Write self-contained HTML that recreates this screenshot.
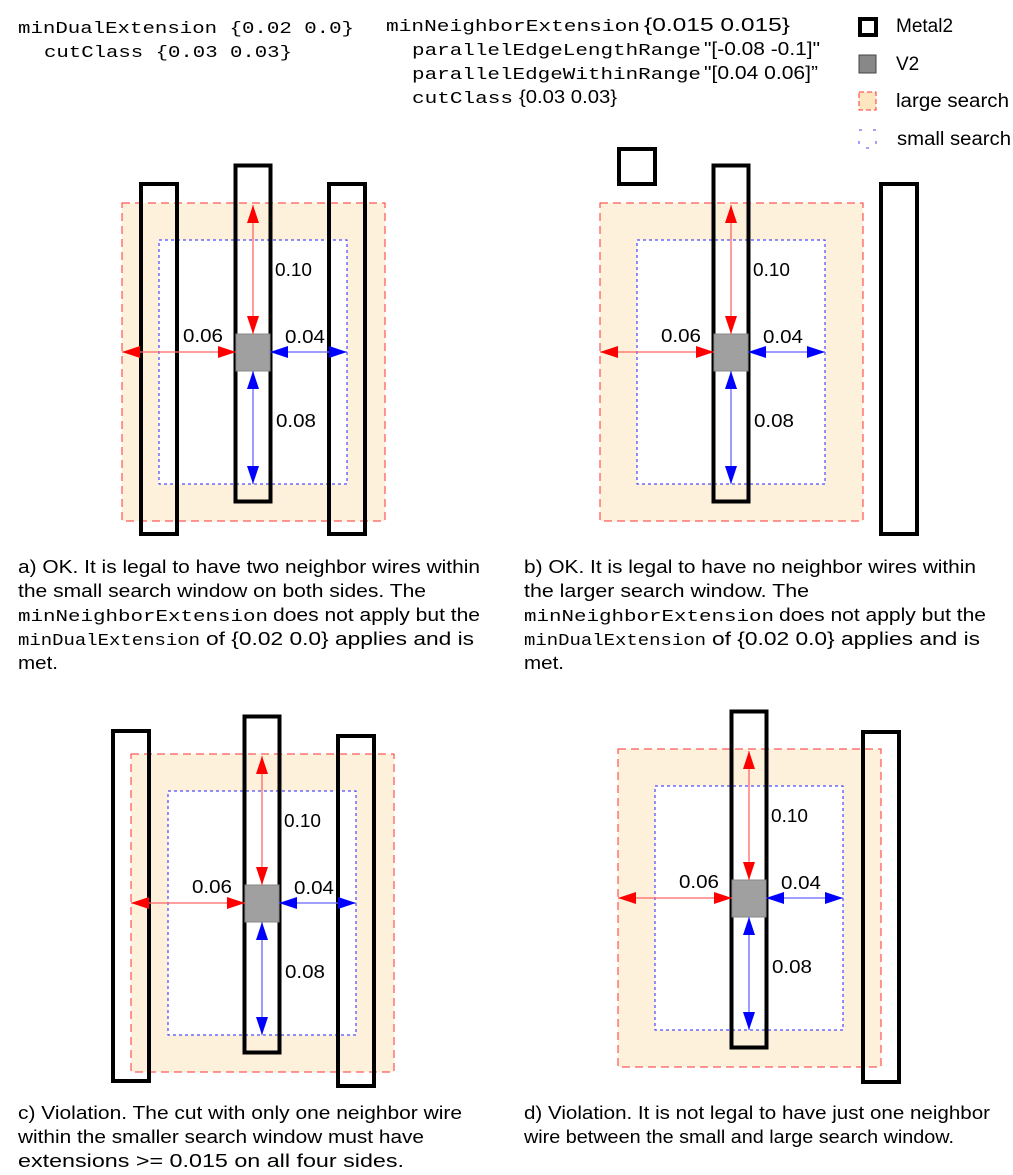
<!DOCTYPE html>
<html><head><meta charset="utf-8"><style>
html,body{margin:0;padding:0;background:#fff;}
svg{display:block;}
.m{font-family:"Liberation Mono",monospace;}
.s{font-family:"Liberation Sans",sans-serif;}
</style></head><body>
<svg width="1013" height="1175" viewBox="0 0 1013 1175" xmlns="http://www.w3.org/2000/svg">
<defs>
<marker id="ar" viewBox="0 0 18 12" refX="18" refY="6" markerWidth="18" markerHeight="12" markerUnits="userSpaceOnUse" orient="auto-start-reverse"><path d="M0,0L18,6L0,12z" fill="#ff0000"/></marker>
<marker id="ab" viewBox="0 0 18 12" refX="18" refY="6" markerWidth="18" markerHeight="12" markerUnits="userSpaceOnUse" orient="auto-start-reverse"><path d="M0,0L18,6L0,12z" fill="#0000ff"/></marker>
<g id="base">
<rect x="0" y="0" width="263" height="318" fill="#fdf1dc" stroke="#ff3333" stroke-width="1" stroke-dasharray="8,5"/>
<rect x="37" y="37" width="188" height="244" fill="#fff" stroke="#2222ff" stroke-width="1" stroke-dasharray="3,3"/>
</g>
<g id="center">
<rect x="113.5" y="-37.5" width="35" height="336" fill="none" stroke="#000" stroke-width="4"/>
<rect x="114" y="131" width="34" height="37" fill="#a0a0a0" stroke="#888" stroke-width="1"/>
<line x1="131" y1="2" x2="131" y2="131" stroke="#ff6666" stroke-width="1.3" marker-start="url(#ar)" marker-end="url(#ar)"/>
<line x1="131" y1="168" x2="131" y2="281" stroke="#6666ff" stroke-width="1.3" marker-start="url(#ab)" marker-end="url(#ab)"/>
<line x1="0" y1="149" x2="114" y2="149" stroke="#ff6666" stroke-width="1.3" marker-start="url(#ar)" marker-end="url(#ar)"/>
<line x1="148" y1="149" x2="225" y2="149" stroke="#6666ff" stroke-width="1.3" marker-start="url(#ab)" marker-end="url(#ab)"/>
<g class="s" font-size="18" fill="#000">
<text x="153" y="73" textLength="37" lengthAdjust="spacingAndGlyphs">0.10</text>
<text x="61" y="139" textLength="40" lengthAdjust="spacingAndGlyphs">0.06</text>
<text x="163" y="140" textLength="40" lengthAdjust="spacingAndGlyphs">0.04</text>
<text x="154" y="224" textLength="40" lengthAdjust="spacingAndGlyphs">0.08</text>
</g>
</g>
</defs>

<!-- top text -->
<text class="m" x="18" y="33" font-size="17" textLength="336" lengthAdjust="spacingAndGlyphs">minDualExtension {0.02 0.0}</text>
<text class="m" x="44" y="57" font-size="17" textLength="248" lengthAdjust="spacingAndGlyphs">cutClass {0.03 0.03}</text>
<g font-size="18">
<text class="m" x="386" y="31" font-size="17" textLength="254" lengthAdjust="spacingAndGlyphs">minNeighborExtension</text>
<text class="s" x="644" y="31" textLength="146" lengthAdjust="spacingAndGlyphs">{0.015 0.015}</text>
<text class="m" x="412" y="55" font-size="17" textLength="289" lengthAdjust="spacingAndGlyphs">parallelEdgeLengthRange</text>
<text class="s" x="704" y="55" textLength="116" lengthAdjust="spacingAndGlyphs">"[-0.08 -0.1]"</text>
<text class="m" x="412" y="79" font-size="17" textLength="289" lengthAdjust="spacingAndGlyphs">parallelEdgeWithinRange</text>
<text class="s" x="704" y="79" textLength="114" lengthAdjust="spacingAndGlyphs">"[0.04 0.06]”</text>
<text class="m" x="412" y="103" font-size="17" textLength="101" lengthAdjust="spacingAndGlyphs">cutClass</text>
<text class="s" x="519" y="103" textLength="98" lengthAdjust="spacingAndGlyphs">{0.03 0.03}</text>
</g>

<!-- legend -->
<rect x="860" y="19" width="16" height="16" fill="none" stroke="#000" stroke-width="4"/>
<text class="s" x="896" y="32" font-size="19">Metal2</text>
<rect x="859" y="55" width="17" height="18" fill="#888" stroke="#444" stroke-width="1"/>
<text class="s" x="896" y="70" font-size="19">V2</text>
<rect x="859" y="92" width="17" height="18" fill="#fde6c0" stroke="#ff3333" stroke-width="1" stroke-dasharray="5,3"/>
<text class="s" x="896" y="107" font-size="19" textLength="113" lengthAdjust="spacingAndGlyphs">large search</text>
<rect x="859" y="130" width="17" height="18" fill="none" stroke="#4444ff" stroke-width="1" stroke-dasharray="3,11"/>
<text class="s" x="897" y="145" font-size="19" textLength="114" lengthAdjust="spacingAndGlyphs">small search</text>

<!-- panel a -->
<g transform="translate(122,203)"><use href="#base"/></g>
<rect x="141" y="184" width="36" height="350" fill="none" stroke="#000" stroke-width="4"/>
<rect x="329" y="184" width="36" height="350" fill="none" stroke="#000" stroke-width="4"/>
<g transform="translate(122,203)"><use href="#center"/></g>

<!-- panel b -->
<g transform="translate(600,203)"><use href="#base"/></g>
<rect x="619" y="149" width="36" height="35" fill="none" stroke="#000" stroke-width="4"/>
<rect x="881" y="184" width="36" height="350" fill="none" stroke="#000" stroke-width="4"/>
<g transform="translate(600,203)"><use href="#center"/></g>

<!-- panel c -->
<g transform="translate(131,754)"><use href="#base"/></g>
<rect x="113" y="731" width="36" height="350" fill="none" stroke="#000" stroke-width="4"/>
<rect x="338" y="736" width="36" height="350" fill="none" stroke="#000" stroke-width="4"/>
<g transform="translate(131,754)"><use href="#center"/></g>

<!-- panel d -->
<g transform="translate(618,749)"><use href="#base"/></g>
<rect x="863" y="732" width="36" height="350" fill="none" stroke="#000" stroke-width="4"/>
<g transform="translate(618,749)"><use href="#center"/></g>

<!-- captions -->
<g class="s" font-size="18" fill="#000">
<text x="18" y="573" textLength="462" lengthAdjust="spacingAndGlyphs">a) OK. It is legal to have two neighbor wires within</text>
<text x="18" y="597" textLength="408" lengthAdjust="spacingAndGlyphs">the small search window on both sides. The</text>
<text class="m" x="18" y="621" font-size="17" textLength="250" lengthAdjust="spacingAndGlyphs">minNeighborExtension</text>
<text x="273" y="621" textLength="207" lengthAdjust="spacingAndGlyphs">does not apply but the</text>
<text class="m" x="18" y="645" font-size="17" textLength="182" lengthAdjust="spacingAndGlyphs">minDualExtension</text>
<text x="206" y="645" textLength="268" lengthAdjust="spacingAndGlyphs">of {0.02 0.0} applies and is</text>
<text x="18" y="669" textLength="40" lengthAdjust="spacingAndGlyphs">met.</text>

<text x="524" y="573" textLength="452" lengthAdjust="spacingAndGlyphs">b) OK. It is legal to have no neighbor wires within</text>
<text x="524" y="597" textLength="285" lengthAdjust="spacingAndGlyphs">the larger search window. The</text>
<text class="m" x="524" y="621" font-size="17" textLength="250" lengthAdjust="spacingAndGlyphs">minNeighborExtension</text>
<text x="779" y="621" textLength="207" lengthAdjust="spacingAndGlyphs">does not apply but the</text>
<text class="m" x="524" y="645" font-size="17" textLength="182" lengthAdjust="spacingAndGlyphs">minDualExtension</text>
<text x="712" y="645" textLength="268" lengthAdjust="spacingAndGlyphs">of {0.02 0.0} applies and is</text>
<text x="524" y="669" textLength="40" lengthAdjust="spacingAndGlyphs">met.</text>

<text x="18" y="1119" textLength="444" lengthAdjust="spacingAndGlyphs">c) Violation. The cut with only one neighbor wire</text>
<text x="18" y="1143" textLength="406" lengthAdjust="spacingAndGlyphs">within the smaller search window must have</text>
<text x="18" y="1167" textLength="386" lengthAdjust="spacingAndGlyphs">extensions &gt;= 0.015 on all four sides.</text>

<text x="524" y="1119" textLength="466" lengthAdjust="spacingAndGlyphs">d) Violation. It is not legal to have just one neighbor</text>
<text x="524" y="1143" textLength="430" lengthAdjust="spacingAndGlyphs">wire between the small and large search window.</text>
</g>
</svg>
</body></html>
